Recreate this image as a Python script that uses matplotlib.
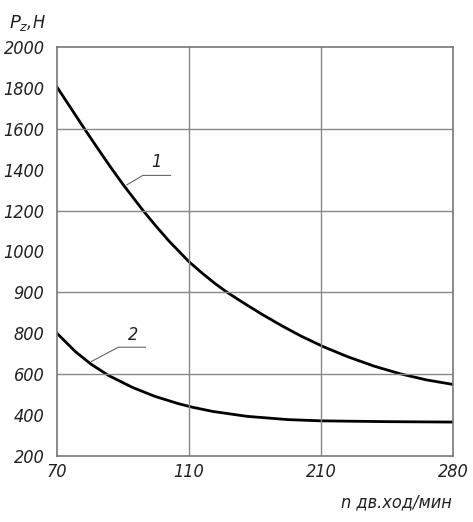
import numpy as np
import matplotlib.pyplot as plt

# tick labels (equally spaced on both axes)
x_labels = ['70', '110', '210', '280']
y_labels = ['200', '400', '600', '800', '900', '1000', '1200', '1400', '1600', '1800', '2000']

# curves, in tick-position units
c1_x = [0, 0.1, 0.21, 0.3, 0.4, 0.5, 0.65, 0.75, 0.85, 1.0, 1.1, 1.2, 1.29, 1.4, 1.55,
        1.7, 1.85, 2.02, 2.2, 2.4, 2.6, 2.8, 3.0]
c1_y = [9.02, 8.53, 7.99, 7.56, 7.09, 6.64, 6.01, 5.62, 5.25, 4.75, 4.47, 4.21, 4.0, 3.77, 3.47,
        3.19, 2.93, 2.67, 2.43, 2.2, 2.01, 1.86, 1.75]
c2_x = [0, 0.14, 0.26, 0.39, 0.57, 0.74, 0.92, 1.03, 1.18, 1.44, 1.75, 2.0, 2.5, 3.0]
c2_y = [3.0, 2.55, 2.24, 1.97, 1.68, 1.46, 1.28, 1.19, 1.09, 0.97, 0.89, 0.86, 0.84, 0.83]

font = dict(family=['DejaVu Sans', 'Noto Sans'], stretch='condensed', style='italic',
            color='#222222')

fig = plt.figure(figsize=(4.73, 5.22), dpi=100)
ax = fig.add_axes([0.1205, 0.1264, 0.8372, 0.7836])

ax.plot(c1_x, c1_y, color='black', lw=2)
ax.plot(c2_x, c2_y, color='black', lw=2)

ax.set_xlim(0, 3)
ax.set_ylim(0, 10)
ax.set_xticks(range(len(x_labels)))
ax.set_xticklabels(x_labels, fontsize=13, **font)
ax.set_yticks(range(len(y_labels)))
ax.set_yticklabels(y_labels, fontsize=13, **font)
ax.tick_params(length=0)
ax.tick_params(axis='y', pad=9)
ax.tick_params(axis='x', pad=5)

# grid: all vertical ticks, every second horizontal tick
for xv in [1, 2]:
    ax.axvline(xv, color='#888888', lw=1)
for yv in [2, 4, 6, 8]:
    ax.axhline(yv, color='#888888', lw=1)
for s in ax.spines.values():
    s.set_color('#777777')
    s.set_linewidth(1.2)

# leaders and curve numbers
ax.plot([0.53, 0.65, 0.86], [6.63, 6.86, 6.86], color='#666666', lw=0.8)
ax.text(0.755, 7.2, '1', fontsize=13, ha='center', va='center', **font)
ax.plot([0.26, 0.465, 0.67], [2.31, 2.66, 2.66], color='#666666', lw=0.8)
ax.text(0.58, 2.96, '2', fontsize=13, ha='center', va='center', **font)

fig.text(0.02, 0.975, r'$P_z$,H', fontsize=13, ha='left', va='top', **font)
fig.text(0.955, 0.02, 'n дв.ход/мин', fontsize=13, ha='right', va='bottom', **font)

fig.savefig('out.png', dpi=100)
